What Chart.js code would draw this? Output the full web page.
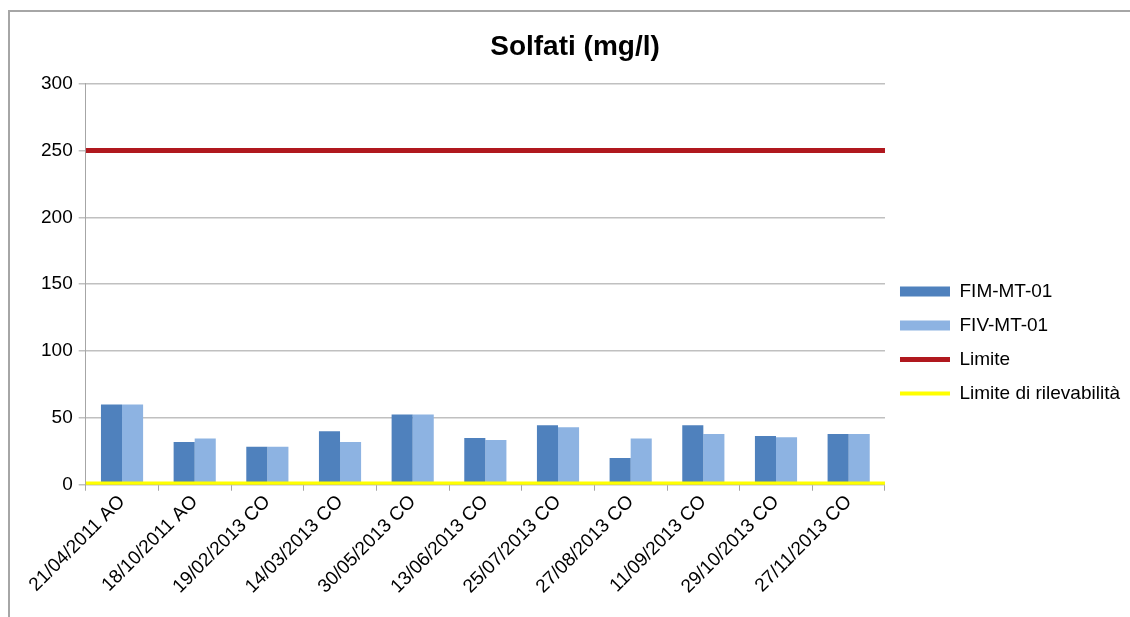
<!doctype html>
<html>
  <head>
    <meta charset="utf-8">
    <script src="https://cdn.jsdelivr.net/npm/chart.js@4"></script>
    <style>
      html, body { margin: 0; padding: 0; background: #fff; overflow: hidden; }
      #frame {
        position: absolute; left: 8px; top: 10px; width: 1122px; height: 607px;
        border-left: 2px solid #a6a6a6; border-top: 2px solid #a6a6a6;
      }
    </style>
  </head>

  <body>
    <div id="frame">
      <canvas id="canvas" width="1120" height="605"></canvas>
    </div>
    <script>
      const dates = [
        '21/04/2011 AO', '18/10/2011 AO', '19/02/2013 CO', '14/03/2013 CO',
        '30/05/2013 CO', '13/06/2013 CO', '25/07/2013 CO', '27/08/2013 CO',
        '11/09/2013 CO', '29/10/2013 CO', '27/11/2013 CO',
      ];
      const fimMt01 = [60, 32, 28.5, 40, 52.5, 35, 44.5, 20, 44.5, 36.5, 38];
      const fivMt01 = [60, 34.5, 28.5, 32, 52.5, 33.5, 43, 34.5, 38, 35.5, 38];
      const limite = 250;
      const limiteRilevabilita = 1;
      const yTicks = [0, 50, 100, 150, 200, 250, 300];

      const font = 'Arial, "Liberation Sans", sans-serif';

      // the limit lines sit on their own x axis ('xl') so they run edge to edge.
      // Chart.js 4.4 reserves a bar slot per x axis, so lines go first (slot 0)
      // and the two bars take the middle slots 1 and 2 of 4 -> centred pair.
      const chart = new Chart(document.getElementById('canvas').getContext('2d'), {
        type: 'bar',
        data: {
          labels: dates,
          datasets: [
            {
              type: 'line',
              label: 'Limite di rilevabilità',
              xAxisID: 'xl',
              data: [{ x: 0, y: limiteRilevabilita }, { x: 1, y: limiteRilevabilita }],
              borderColor: '#ffff00',
              borderWidth: 4,
              pointRadius: 0,
            },
            {
              type: 'line',
              label: 'Limite',
              xAxisID: 'xl',
              data: [{ x: 0, y: limite }, { x: 1, y: limite }],
              borderColor: '#b0181e',
              borderWidth: 5,
              pointRadius: 0,
            },
            {
              label: 'FIM-MT-01',
              data: fimMt01,
              backgroundColor: '#4f81bd',
              categoryPercentage: 1.16,
              barPercentage: 1,
            },
            {
              label: 'FIV-MT-01',
              data: fivMt01,
              backgroundColor: '#8db3e2',
              categoryPercentage: 1.16,
              barPercentage: 1,
            },
          ],
        },
        options: {
          responsive: false,
          animation: false,
          layout: { padding: { left: 10, right: 0, top: 0, bottom: 19 } },
          plugins: {
            title: {
              display: true,
              text: 'Solfati (mg/l)',
              color: '#000',
              font: { family: font, size: 28, weight: 'bold' },
              padding: { top: 18, bottom: 20 },
            },
            tooltip: { enabled: false },
            legend: {
              position: 'right',
              title: {
                display: true,
                text: ' ',
                font: { size: 4 },
                padding: { top: 0, bottom: 70 },
              },
              labels: {
                color: '#000',
                font: { family: font, size: 19 },
                usePointStyle: true,
                pointStyleWidth: 50,
                boxHeight: 10,
                padding: 15,
                generateLabels: (c) => {
                  const items = c.data.datasets.map((ds, i) => {
                    const isLine = ds.type === 'line';
                    return {
                      text: ds.label,
                      datasetIndex: i,
                      fillStyle: isLine ? ds.borderColor : ds.backgroundColor,
                      strokeStyle: isLine ? ds.borderColor : ds.backgroundColor,
                      lineWidth: isLine ? ds.borderWidth : 0,
                      pointStyle: isLine ? 'line' : 'rect',
                      fontColor: '#000',
                      hidden: false,
                    };
                  });
                  // bars first, then Limite, then Limite di rilevabilità
                  return [items[2], items[3], items[1], items[0]];
                },
              },
            },
          },
          scales: {
            x: {
              offset: true,
              grid: {
                display: true,
                offset: true,
                drawOnChartArea: false,
                drawTicks: true,
                tickLength: 6,
                color: '#a6a6a6',
              },
              border: { display: true, color: '#a6a6a6' },
              ticks: {
                color: '#000',
                font: { family: font, size: 19 },
                minRotation: 45,
                maxRotation: 45,
                autoSkip: false,
                padding: 0,
              },
            },
            xl: {
              type: 'linear',
              display: false,
              offset: false,
              min: 0,
              max: 1,
            },
            y: {
              stacked: false,
              min: 0,
              max: 300,
              afterBuildTicks: (axis) => {
                axis.ticks = yTicks.map((v) => ({ value: v }));
              },
              afterFit: (axis) => {
                axis.width += 15;
              },
              grid: {
                color: '#c0c0c0',
                lineWidth: 1.5,
                tickLength: 7,
              },
              border: { display: true, color: '#a6a6a6' },
              ticks: {
                color: '#000',
                font: { family: font, size: 19 },
                padding: 6,
              },
            },
          },
        },
      });
    </script>
  </body>
</html>
